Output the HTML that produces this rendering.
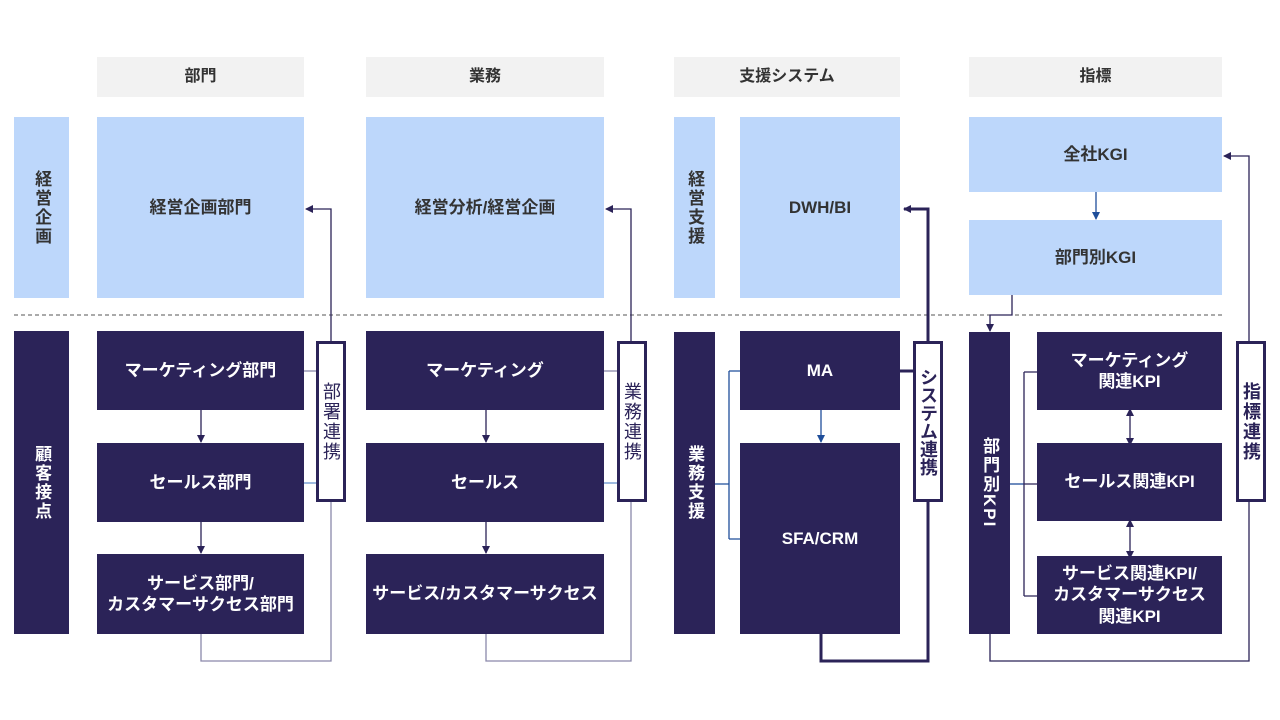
<!DOCTYPE html>
<html><head><meta charset="utf-8"><style>
body{margin:0;width:1280px;height:720px;background:#fff;position:relative;overflow:hidden;font-family:"Liberation Sans","Noto Sans CJK JP",sans-serif;font-weight:bold}
.b{position:absolute;display:flex;align-items:center;justify-content:center;text-align:center;box-sizing:border-box;line-height:1.25}
.h{background:#f2f2f2;color:#333;font-size:16px}
.l{background:#bdd7fb;color:#333;font-size:17px}
.d{background:#2b2358;color:#fff;font-size:17px}
.v{writing-mode:vertical-rl;letter-spacing:2px}
.w{background:#fff;border:3px solid #2b2358;color:#2b2358;font-size:18px;font-weight:normal;line-height:1}
svg{position:absolute;left:0;top:0}
</style></head><body>
<div class="b h" style="left:97px;top:57px;width:207px;height:40px">部門</div>
<div class="b h" style="left:366px;top:57px;width:238px;height:40px">業務</div>
<div class="b h" style="left:674px;top:57px;width:226px;height:40px">支援システム</div>
<div class="b h" style="left:969px;top:57px;width:253px;height:40px">指標</div>

<div class="b l v" style="left:14px;top:117px;width:55px;height:181px">経営企画</div>
<div class="b l" style="left:97px;top:117px;width:207px;height:181px">経営企画部門</div>
<div class="b l" style="left:366px;top:117px;width:238px;height:181px">経営分析/経営企画</div>
<div class="b l v" style="left:674px;top:117px;width:41px;height:181px">経営支援</div>
<div class="b l" style="left:740px;top:117px;width:160px;height:181px">DWH/BI</div>
<div class="b l" style="left:969px;top:117px;width:253px;height:75px">全社KGI</div>
<div class="b l" style="left:969px;top:220px;width:253px;height:75px">部門別KGI</div>

<div class="b d v" style="left:14px;top:331px;width:55px;height:303px">顧客接点</div>
<div class="b d" style="left:97px;top:331px;width:207px;height:79px">マーケティング部門</div>
<div class="b d" style="left:97px;top:443px;width:207px;height:79px">セールス部門</div>
<div class="b d" style="left:97px;top:554px;width:207px;height:80px">サービス部門/<br>カスタマーサクセス部門</div>
<div class="b d" style="left:366px;top:331px;width:238px;height:79px">マーケティング</div>
<div class="b d" style="left:366px;top:443px;width:238px;height:79px">セールス</div>
<div class="b d" style="left:366px;top:554px;width:238px;height:80px">サービス/カスタマーサクセス</div>
<div class="b d v" style="left:674px;top:332px;width:41px;height:302px">業務支援</div>
<div class="b d" style="left:740px;top:331px;width:160px;height:79px">MA</div>
<div class="b d" style="left:740px;top:443px;width:160px;height:191px">SFA/CRM</div>
<div class="b d v" style="left:969px;top:332px;width:41px;height:302px">部門別KPI</div>
<div class="b d" style="left:1037px;top:332px;width:185px;height:78px">マーケティング<br>関連KPI</div>
<div class="b d" style="left:1037px;top:443px;width:185px;height:78px">セールス関連KPI</div>
<div class="b d" style="left:1037px;top:556px;width:185px;height:78px">サービス関連KPI/<br>カスタマーサクセス<br>関連KPI</div>

<svg width="1280" height="720">
<defs>
<marker id="a" markerWidth="8" markerHeight="8" refX="7" refY="4" orient="auto" markerUnits="userSpaceOnUse"><path d="M0,0L8,4L0,8z" fill="#2b2358"/></marker>
<marker id="ab" markerWidth="8" markerHeight="8" refX="7" refY="4" orient="auto" markerUnits="userSpaceOnUse"><path d="M0,0L8,4L0,8z" fill="#1f4e9a"/></marker>
<marker id="as" markerWidth="8" markerHeight="8" refX="4" refY="4" orient="auto-start-reverse" markerUnits="userSpaceOnUse"><path d="M0,0L8,4L0,8z" fill="#2b2358"/></marker>
</defs>
<line x1="14" y1="315" x2="1222" y2="315" stroke="#555" stroke-dasharray="4,3" stroke-width="1"/>
<g fill="none" stroke="#2b2358" stroke-width="1.3">
<path d="M201 410V442" marker-end="url(#a)"/><path d="M201 522V553" marker-end="url(#a)"/>
<path d="M486 410V442" marker-end="url(#a)"/><path d="M486 522V553" marker-end="url(#a)"/>
<path d="M331 341V209H306" marker-end="url(#a)"/>
<path d="M631 341V209H606" marker-end="url(#a)"/>
<path d="M1249 341V156H1224" marker-end="url(#a)"/>
<path d="M1012 295V315H990V331" marker-end="url(#a)"/>
<path d="M1130 412V442" marker-start="url(#as)" marker-end="url(#as)"/>
<path d="M1130 523V555" marker-start="url(#as)" marker-end="url(#as)"/>
</g>
<g fill="none" stroke="#8a88aa" stroke-width="1.3">
<path d="M331 501V661H201V634"/><path d="M631 501V661H486V634"/>
<path d="M304 371H316"/><path d="M604 371H617"/>
</g>
<g fill="none" stroke="#7ea2d6" stroke-width="1.5"><path d="M304 483H316"/><path d="M604 483H617"/></g>
<path d="M1249 501V661H990V634" fill="none" stroke="#2b2358" stroke-width="1.3"/>
<g fill="none" stroke="#2b2358" stroke-width="3">
<path d="M928 341V209H904" marker-end="url(#a)"/>
<path d="M928 501V661H821V634"/>
<path d="M900 371H913"/>
</g>
<g fill="none" stroke="#1f4e9a" stroke-width="1.3">
<path d="M715 484H729M729 371V539M729 371H740M729 539H740"/>
<path d="M821 410V442" marker-end="url(#ab)"/>
<path d="M1096 192V219" marker-end="url(#ab)"/>
<path d="M1010 484H1024"/>
</g>
<path d="M1024 372V596M1024 372H1037M1024 484H1037M1024 596H1037" fill="none" stroke="#2b2358" stroke-width="1.3"/>
</svg>
<div class="b w v" style="left:316px;top:341px;width:30px;height:161px">部署連携</div>
<div class="b w v" style="left:617px;top:341px;width:30px;height:161px">業務連携</div>
<div class="b w v" style="left:913px;top:341px;width:30px;height:161px;font-weight:bold;letter-spacing:0">システム連携</div>
<div class="b w v" style="left:1236px;top:341px;width:30px;height:161px;font-weight:bold">指標連携</div>
</body></html>
